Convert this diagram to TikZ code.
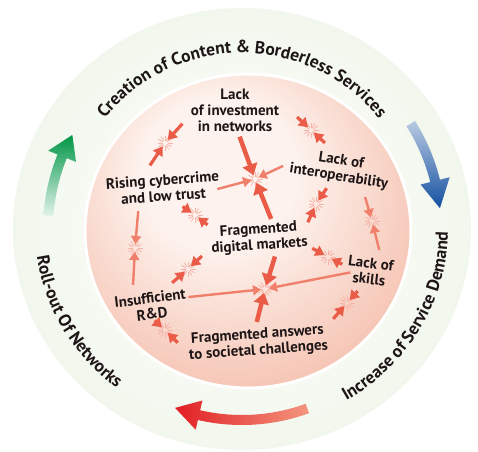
\documentclass[tikz,border=0pt]{standalone}
\usepackage{fontspec}
\setmainfont{PT Sans}
\usetikzlibrary{arrows.meta}
\usetikzlibrary{decorations.text}

\definecolor{ringout}{RGB}{194,222,178}
\definecolor{ringin}{RGB}{236,244,230}
\definecolor{pinkin}{RGB}{253,242,237}
\definecolor{pinkmid}{RGB}{246,198,182}
\definecolor{pinkout}{RGB}{240,164,140}
\definecolor{arrowred}{RGB}{234,92,72}
\definecolor{arrowsoft}{RGB}{240,128,108}
\definecolor{inkdark}{RGB}{30,22,22}
\definecolor{arrowgreen}{RGB}{0,150,70}
\definecolor{arrowblue}{RGB}{20,80,160}
\definecolor{arrowhot}{RGB}{225,30,35}
\definecolor{arrowtail}{RGB}{244,150,126}

\pgfdeclareradialshading{ringshade}{\pgfpoint{0bp}{0bp}}{color(0bp)=(white); color(36bp)=(ringin); color(50bp)=(ringout)}
\pgfdeclareradialshading{pinkshade}{\pgfpoint{-6bp}{12bp}}{color(0bp)=(pinkin); color(12bp)=(pinkin); color(30bp)=(pinkmid); color(50bp)=(pinkout)}

\newcommand{\lblfont}{\bfseries\fontsize{15}{16}\selectfont}
\newcommand{\ringfont}{\bfseries\fontsize{17.5}{17.5}\selectfont}
\newcommand{\ringarrow}[4]{({#2}:{#1+5}) arc[start angle=#2,end angle=#3,radius=#1+5] -- ({#3}:{#1+15}) -- ({#4}:{#1}) -- ({#3}:{#1-15}) -- ({#3}:{#1-5}) arc[start angle=#3,end angle=#2,radius=#1-5] -- cycle}

\begin{document}
\begin{tikzpicture}[x=1pt,y=1pt,
    lbl/.style={font=\lblfont,text=inkdark,align=center,inner sep=1pt},
    bigpush/.style={draw=arrowred,line width=4.5pt,-{Triangle[length=11pt,width=15pt]},shorten >=4pt},
    push/.style={draw=arrowred,line width=3.2pt,-{Triangle[length=9pt,width=11pt]},shorten >=4pt},
    softpush/.style={draw=arrowsoft,line width=2.4pt,-{Triangle[length=8pt,width=10pt]},shorten >=4pt},
    spark/.style={draw=white!40!arrowsoft,line width=0.8pt},
    ringtext/.style={decorate,decoration={text along path,text align=center,text color=inkdark,text={|\ringfont|#1}}}]
    \useasboundingbox (0,0) rectangle (478,451);
    \fill[white] (0,0) rectangle (478,451);
    \shade[shading=ringshade] (242,222) ellipse [x radius=229, y radius=221];
    \shadedraw[shading=pinkshade,draw=white,line width=3pt] (248,220) ellipse [x radius=163, y radius=157];

    \begin{scope}[shift={(242,222)}]
        \path[ringtext={Creation of Content {\&} Borderless Services}] (170:176) arc[start angle=170,end angle=10,radius=176];
        \path[ringtext={Increase of Service Demand}] (-75:206 and 199) arc[start angle=-75,end angle=15,x radius=206,y radius=199];
        \path[ringtext={Roll-out Of Networks}] (165:207 and 200) arc[start angle=165,end angle=255,x radius=207,y radius=200];
        \shade[bottom color=arrowgreen!12!white,top color=arrowgreen] \ringarrow{194}{176}{158}{151};
        \shade[top color=arrowblue!30!white,bottom color=arrowblue] \ringarrow{199}{32}{14}{6};
        \shade[left color=arrowhot,right color=arrowtail] \ringarrow{191}{-70}{-103}{-110.5};
    \end{scope}

    \node[lbl] (inv) at (235,341) {Lack\\of investment\\in networks};
    \node[lbl,rotate=-9] (interop) at (340,282) {Lack of\\interoperability};
    \node[lbl,rotate=4] (cyber) at (163,263) {Rising cybercrime\\and low trust};
    \node[lbl,rotate=4] (dmkt) at (259,213) {Fragmented\\digital markets};
    \node[lbl,rotate=-7] (skills) at (370,180) {Lack of\\skills};
    \node[lbl,rotate=7] (rnd) at (151,145) {Insufficient\\R\&D};
    \node[lbl,rotate=4] (ans) at (258,108) {Fragmented answers\\to societal challenges};

    \foreach \i/\x/\y in {1/165/308,2/255/272,3/311/321,4/316/247,5/372/230,6/195/236,7/135/203,8/188/182,9/165/121,10/265/162,11/328/194,12/347/148}
    {
        \coordinate (c\i) at (\x,\y);
        \foreach \a in {0,30,...,330}
            \draw[spark] (c\i) ++(\a:2.5) -- ++(\a:5);
    }
    \foreach \i/\a/\l/\s in {1/48/26/push,1/236/27/push,
        2/110/45/bigpush,2/25/31/softpush,2/195/39/softpush,2/292/43/bigpush,
        3/137/19/push,3/317/19/push,4/56/19/push,4/246/20/push,
        5/106/25/softpush,5/284/30/softpush,6/146/15/push,6/322/16/push,
        7/85/37/softpush,7/267/37/softpush,8/43/19/push,8/221/21/push,
        9/138/14/push,9/315/18/push,
        10/73/34/bigpush,10/11/87/softpush,10/256/34/bigpush,10/186/77/softpush,
        11/151/18/push,11/333/16/push,12/48/16/push,12/229/21/push}
    {
        \draw[\s] (c\i) ++(\a:\l) -- (c\i);
    }
\end{tikzpicture}
\end{document}
